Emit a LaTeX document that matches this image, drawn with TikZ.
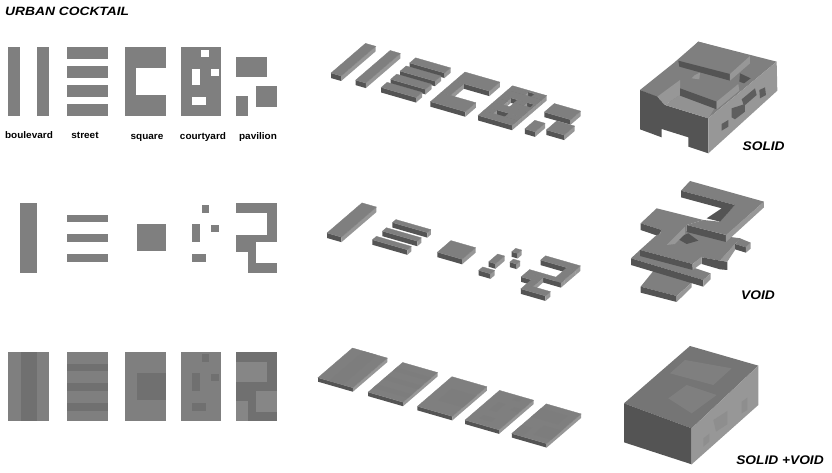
\documentclass[tikz,border=0pt]{standalone}
\usepackage{fontspec}
\setmainfont{Liberation Sans}
\definecolor{topc}{HTML}{7F7F7F}
\definecolor{frontc}{HTML}{545454}
\definecolor{rightc}{HTML}{979797}
\definecolor{darkov}{HTML}{707070}
\definecolor{lightov}{HTML}{868686}
\definecolor{winc}{HTML}{5E5E5E}
\tikzset{
  planview/.style={x={(1pt,0pt)},y={(0pt,-1pt)},z={(0pt,0pt)}},
  isoview/.style n args={2}{shift={(#1pt,-#2pt)},x={(.85pt,-.245pt)},y={(-.5pt,-.43pt)},z={(0pt,1pt)}},
  zoomview/.style n args={2}{shift={(#1pt,-#2pt)},x=.3333pt,y=-.3333pt},
  title/.style={font=\bfseries\itshape\fontsize{12}{12}\selectfont,anchor=base west,inner sep=0,xscale=1.15},
  caption/.style={font=\bfseries\itshape\fontsize{12.5}{12.5}\selectfont,anchor=base,inner sep=0,xscale=1.1},
  label/.style={font=\bfseries\fontsize{9.6}{9.6}\selectfont,anchor=base,inner sep=0,xscale=1.04},
  topf/.style={fill=topc,draw=topc,line width=.3pt},
  frontf/.style={fill=frontc},
  rightf/.style={fill=rightc},
}
\newcommand{\hh}{5}
\newcommand{\ovcolor}{darkov}
\newcommand{\flatbx}[4]{\fill[\ovcolor] (#1,#2,\hh)--(#3,#2,\hh)--(#3,#4,\hh)--(#1,#4,\hh)--cycle;}
\newcommand{\solidbx}[4]{%
  \fill[frontf] (#1,#4,0)--(#3,#4,0)--(#3,#4,\hh)--(#1,#4,\hh)--cycle;
  \fill[rightf] (#3,#2,0)--(#3,#4,0)--(#3,#4,\hh)--(#3,#2,\hh)--cycle;
  \filldraw[topf] (#1,#2,\hh)--(#3,#2,\hh)--(#3,#4,\hh)--(#1,#4,\hh)--cycle;}
\newcommand{\bx}[4]{}
% solid row
\newcommand{\solidA}{\bx{8}{47}{20}{116}\bx{37}{47}{49}{116}}
\newcommand{\solidB}{\bx{67}{47}{108}{59}\bx{67}{66}{108}{78}\bx{67}{85}{108}{97}\bx{67}{104}{108}{116}}
\newcommand{\solidC}{\bx{125}{47}{166}{68}\bx{125}{68}{136}{95}\bx{125}{95}{166}{116}}
\newcommand{\solidD}{\bx{181}{47}{221}{50}\bx{181}{50}{201}{57}\bx{209}{50}{221}{57}\bx{181}{57}{221}{69}%
  \bx{181}{69}{192}{76}\bx{200}{69}{211}{76}\bx{219}{69}{221}{76}\bx{181}{76}{192}{85}\bx{200}{76}{221}{85}%
  \bx{181}{85}{221}{97}\bx{181}{97}{192}{105}\bx{206}{97}{221}{105}\bx{181}{105}{221}{116}}
\newcommand{\solidE}{\bx{236}{57}{267}{77}\bx{256}{86}{277}{107}\bx{236}{96}{248}{116}}
% void row
\newcommand{\voidA}{\bx{20}{203}{37}{273}}
\newcommand{\voidB}{\bx{67}{215}{108}{222}\bx{67}{234}{108}{242}\bx{67}{254}{108}{262}}
\newcommand{\voidC}{\bx{137}{224}{166}{251}}
\newcommand{\voidD}{\bx{202}{205}{209}{213}\bx{192}{224}{200}{242}\bx{211}{225}{219}{232}\bx{192}{254}{206}{262}}
\newcommand{\voidE}{\bx{236}{203}{277}{213}\bx{267}{213}{277}{235}\bx{236}{235}{277}{242}\bx{236}{242}{256}{252}\bx{248}{252}{256}{263}\bx{248}{263}{277}{273}}
% combined row
\newcommand{\slabs}{\bx{8}{352}{49}{421}\bx{67}{352}{108}{421}\bx{125}{352}{166}{421}\bx{181}{352}{221}{421}\bx{236}{352}{277}{421}}
\newcommand{\mixA}{\bx{21}{352}{37}{421}}
\newcommand{\mixB}{\bx{67}{364}{108}{371}\bx{67}{383}{108}{391}\bx{67}{403}{108}{411}}
\newcommand{\mixC}{\bx{137}{373}{166}{400}}
\newcommand{\mixD}{\bx{202}{354}{209}{362}\bx{192}{373}{200}{391}\bx{211}{374}{219}{381}\bx{192}{403}{206}{411}}
\newcommand{\mixE}{\bx{236}{352}{277}{421}}
\newcommand{\mixF}{\bx{236}{362}{267}{382}\bx{256}{391}{277}{412}\bx{236}{401}{248}{421}}
\begin{document}
\begin{tikzpicture}[x=1pt,y=-1pt]
\useasboundingbox (0,0) rectangle (832,473);
\fill[white] (0,0) rectangle (832,473);
\node[title] (ttl) at (5,16) {URBAN COCKTAIL};
% plan views
\begin{scope}[planview]
  \renewcommand{\hh}{0}
  \renewcommand{\ovcolor}{topc}
  \let\bx\flatbx
  \solidA\solidB\solidC\solidD\solidE
  \voidA\voidB\voidC\voidD\voidE
  \slabs
  \renewcommand{\ovcolor}{darkov}
  \mixA\mixB\mixC\mixD\mixE
  \renewcommand{\ovcolor}{lightov}
  \mixF
\end{scope}
\node[label] (lb1) at (29,139) {boulevard};
\node[label] (lb2) at (85,139) {street};
\node[label] (lb3) at (147,140) {square};
\node[label] (lb4) at (203,140) {courtyard};
\node[label] (lb5) at (258,140) {pavilion};
% iso solid
\begin{scope}[isoview={382.2}{26.2}]
  \let\bx\solidbx
  \solidA\solidB\solidC\solidD\solidE
\end{scope}
% iso void
\begin{scope}[isoview={446.5}{115.7}]
  \let\bx\solidbx
  \voidA\voidB\voidC\voidD\voidE
\end{scope}
% iso combined
\begin{scope}[isoview={521.7}{198.7}]
  \renewcommand{\hh}{4}
  \let\bx\solidbx
  \slabs
  \let\bx\flatbx
  \renewcommand{\ovcolor}{topc!85!darkov}
  \mixA\mixB\mixC\mixD\mixF
\end{scope}
% SOLID massing
\begin{scope}[zoomview={620}{30}]
  \fill[topc] (60,180)--(160,100)--(235,35)--(470,95)--(265,265)--cycle;
  \fill[frontc] (60,180)--(112,200)--(135,225)--(265,265)--(265,370)--(205,350)--(205,322)--(125,297)--(125,322)--(60,298)--cycle;
  \fill[rightc] (265,265)--(470,95)--(472,182)--(265,370)--cycle;
  \fill[winc] (305,282)--(325,270)--(325,290)--(305,302)--cycle;
  \fill[winc] (335,235)--(375,222)--(375,245)--(345,268)--(335,262)--cycle;
  \fill[winc] (365,208)--(405,175)--(410,195)--(372,228)--cycle;
  \fill[winc] (418,180)--(435,172)--(438,195)--(420,205)--cycle;
  \fill[rightc] (112,200)--(180,150)--(180,195)--(135,225)--cycle;
  \fill[topc!85!white] (135,225)--(180,195)--(285,232)--(265,265)--cycle;
  \fill[topc] (180,175)--(225,135)--(355,162)--(290,215)--cycle;
  \fill[frontc] (180,175)--(290,215)--(290,238)--(180,197)--cycle;
  \fill[rightc] (290,215)--(355,162)--(358,182)--(290,238)--cycle;
  \fill[topc] (175,92)--(235,35)--(390,78)--(330,132)--cycle;
  \fill[frontc] (175,92)--(330,132)--(330,152)--(178,110)--cycle;
  \fill[rightc] (330,132)--(390,78)--(390,100)--(330,152)--cycle;
  \fill[frontc] (360,130)--(392,145)--(372,160)--(358,155)--cycle;
  \fill[rightc] (225,135)--(240,128)--(238,148)--(215,145)--cycle;
  \node[caption] (solidcap) at (431,361) {SOLID};
\end{scope}
% VOID massing
\begin{scope}[zoomview={620}{170}]
  \fill[topc] (62,350)--(100,303)--(215,338)--(170,378)--cycle;
  \fill[frontc] (62,350)--(170,378)--(170,396)--(62,368)--cycle;
  \fill[rightc] (170,378)--(215,338)--(215,352)--(170,396)--cycle;
  \fill[frontc] (300,272)--(322,275)--(322,300)--(300,298)--cycle;
  \fill[topc] (360,205)--(392,218)--(378,232)--(345,222)--cycle;
  \fill[frontc] (345,222)--(378,232)--(378,248)--(345,238)--cycle;
  \fill[rightc] (378,232)--(392,218)--(392,236)--(378,248)--cycle;
  \fill[topc] (62,160)--(110,115)--(250,150)--(200,165)--(200,240)--(110,215)--(125,180)--cycle;
  \fill[frontc] (62,160)--(125,180)--(115,198)--(62,180)--cycle;
  \fill[rightc] (300,272)--(345,222)--(345,240)--(322,275)--cycle;
  \fill[topc] (60,240)--(110,195)--(170,180)--(362,205)--(345,222)--(300,272)--(245,262)--(218,282)--cycle;
  \fill[frontc] (245,262)--(300,272)--(300,298)--(245,282)--cycle;
  \fill[frontc] (170,205)--(205,190)--(235,212)--(200,222)--cycle;
  \fill[rightc] (140,225)--(195,170)--(195,192)--(165,222)--cycle;
  \fill[topc] (33,265)--(60,240)--(272,310)--(250,330)--cycle;
  \fill[frontc] (33,265)--(250,330)--(250,350)--(33,285)--cycle;
  \fill[rightc] (250,330)--(272,310)--(272,328)--(250,350)--cycle;
  \fill[frontc] (60,240)--(218,282)--(218,300)--(60,258)--cycle;
  \fill[rightc] (218,282)--(245,260)--(245,280)--(218,300)--cycle;
  \fill[topc] (183,62)--(210,33)--(432,95)--(320,195)--(200,165)--(250,150)--(298,155)--(345,105)--cycle;
  \fill[frontc] (183,62)--(345,105)--(300,155)--(260,145)--(305,115)--(183,82)--cycle;
  \fill[frontc] (200,165)--(318,195)--(318,216)--(200,186)--cycle;
  \fill[rightc] (318,195)--(432,95)--(432,112)--(318,216)--cycle;
  \node[caption] (voidcap) at (414,388) {VOID};
\end{scope}
% SOLID + VOID massing
\begin{scope}[zoomview={610}{335}]
  \fill[topc!92!black] (42,205)--(240,33)--(445,92)--(245,280)--cycle;
  \fill[frontc] (42,205)--(245,280)--(245,388)--(42,322)--cycle;
  \fill[rightc] (245,280)--(445,92)--(445,210)--(245,388)--cycle;
  \fill[topc] (175,190)--(230,150)--(320,180)--(245,235)--cycle;
  \fill[topc] (180,115)--(225,75)--(365,100)--(310,150)--cycle;
  \fill[rightc!94!black] (280,310)--(298,296)--(298,320)--(280,335)--cycle;
  \fill[rightc!94!black] (310,255)--(352,228)--(352,268)--(318,290)--cycle;
  \fill[rightc!94!black] (395,200)--(412,188)--(412,225)--(395,235)--cycle;
  \node[caption] (mixcap) at (510,390) {SOLID +VOID};
\end{scope}
\end{tikzpicture}
\end{document}
